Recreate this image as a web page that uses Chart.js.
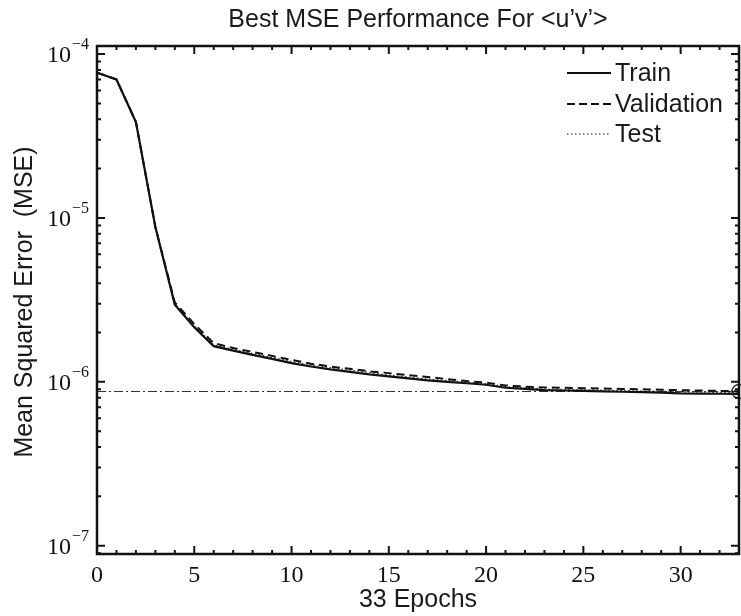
<!DOCTYPE html>
<html>
<head>
<meta charset="utf-8">
<script src="https://cdn.jsdelivr.net/npm/chart.js"></script>
<style>
  html, body { margin: 0; padding: 0; background: #fff; }
  #wrap { width: 741px; height: 616px; }
</style>
</head>
<body>
<div id="wrap"><canvas id="chart" width="741" height="616"></canvas></div>
<script>
var epochs = [0, 1, 2, 3, 4, 5, 6, 7, 8, 9, 10, 11, 12, 13, 14, 15, 16, 17, 18, 19, 20, 21, 22, 23, 24, 25, 26, 27, 28, 29, 30, 31, 32, 33];
var trainMse = [7.7e-5, 7.0e-5, 3.85e-5, 8.8e-6, 2.95e-6, 2.15e-6, 1.65e-6, 1.55e-6, 1.46e-6, 1.38e-6, 1.30e-6, 1.24e-6, 1.19e-6, 1.15e-6, 1.11e-6, 1.08e-6, 1.05e-6, 1.02e-6, 1.00e-6, 0.98e-6, 0.96e-6, 0.92e-6, 0.905e-6, 0.89e-6, 0.885e-6, 0.88e-6, 0.875e-6, 0.87e-6, 0.865e-6, 0.86e-6, 0.85e-6, 0.848e-6, 0.846e-6, 0.845e-6];
var validationMse = [7.7e-5, 7.0e-5, 3.85e-5, 8.8e-6, 3.05e-6, 2.25e-6, 1.72e-6, 1.61e-6, 1.52e-6, 1.44e-6, 1.36e-6, 1.29e-6, 1.24e-6, 1.20e-6, 1.16e-6, 1.13e-6, 1.10e-6, 1.07e-6, 1.04e-6, 1.01e-6, 0.99e-6, 0.95e-6, 0.935e-6, 0.925e-6, 0.92e-6, 0.915e-6, 0.91e-6, 0.905e-6, 0.90e-6, 0.895e-6, 0.89e-6, 0.885e-6, 0.88e-6, 0.875e-6];
var testMse = [7.7e-5, 7.0e-5, 3.85e-5, 8.9e-6, 3.0e-6, 2.2e-6, 1.68e-6, 1.58e-6, 1.49e-6, 1.41e-6, 1.33e-6, 1.27e-6, 1.22e-6, 1.18e-6, 1.14e-6, 1.10e-6, 1.07e-6, 1.04e-6, 1.02e-6, 0.995e-6, 0.975e-6, 0.935e-6, 0.92e-6, 0.905e-6, 0.90e-6, 0.895e-6, 0.89e-6, 0.885e-6, 0.88e-6, 0.875e-6, 0.87e-6, 0.865e-6, 0.862e-6, 0.86e-6];
var bestEpoch = 33;
var bestMse = 0.873e-6;
var xTicks = [0, 5, 10, 15, 20, 25, 30];
var yTickExps = [-4, -5, -6, -7];

var sans = '"Liberation Sans", Arial, sans-serif';
var serif = '"Liberation Serif", "Times New Roman", serif';

function pts(ys) {
  return epochs.map(function (e, i) { return { x: e, y: ys[i] }; });
}

var axesPlugin = {
  id: 'matlabAxes',
  afterDraw: function (chart) {
    var ctx = chart.ctx;
    var a = chart.chartArea;
    var xs = chart.scales.x, ys = chart.scales.y;
    ctx.save();
    ctx.strokeStyle = '#111';
    ctx.fillStyle = '#111';

    // x ticks, top and bottom, pointing in
    ctx.lineWidth = 2;
    for (var e = 0; e <= 33; e++) {
      var px = xs.getPixelForValue(e);
      var len = (e % 5 === 0) ? 8 : 4;
      ctx.beginPath();
      ctx.moveTo(px, a.bottom); ctx.lineTo(px, a.bottom - len);
      ctx.moveTo(px, a.top); ctx.lineTo(px, a.top + len);
      ctx.stroke();
    }
    // y ticks, left and right
    for (var d = -8; d <= -4; d++) {
      for (var k = 1; k <= 9; k++) {
        var v = k * Math.pow(10, d);
        if (v < ys.min || v > ys.max) continue;
        var py = ys.getPixelForValue(v);
        var l2 = (k === 1) ? 8 : 4;
        ctx.beginPath();
        ctx.moveTo(a.left, py); ctx.lineTo(a.left + l2, py);
        ctx.moveTo(a.right, py); ctx.lineTo(a.right - l2, py);
        ctx.stroke();
      }
    }
    // frame
    ctx.lineWidth = 2.5;
    ctx.strokeRect(a.left, a.top, a.right - a.left, a.bottom - a.top);

    // x tick labels
    ctx.font = '24px ' + serif;
    ctx.textAlign = 'center';
    ctx.textBaseline = 'middle';
    xTicks.forEach(function (t) {
      ctx.fillText(String(t), xs.getPixelForValue(t), a.bottom + 22);
    });
    // y tick labels with superscript exponents
    yTickExps.forEach(function (p) {
      var py = ys.getPixelForValue(Math.pow(10, p));
      ctx.font = '24px ' + serif;
      ctx.textAlign = 'right';
      ctx.textBaseline = 'middle';
      ctx.fillText('10', 71, py + 2);
      ctx.font = '16px ' + serif;
      ctx.textAlign = 'left';
      ctx.fillText('\u2212' + String(-p), 72, py - 9);
    });

    // title and axis titles
    ctx.font = '25px ' + sans;
    ctx.textAlign = 'center';
    ctx.textBaseline = 'alphabetic';
    ctx.fillStyle = '#1a1a1a';
    ctx.fillText("Best MSE Performance For <u\u2019v\u2019>", (a.left + a.right) / 2, 27);
    ctx.fillText('33 Epochs', (a.left + a.right) / 2, 607);
    ctx.save();
    ctx.translate(32, (a.top + a.bottom) / 2 + 2);
    ctx.rotate(-Math.PI / 2);
    ctx.fillText('Mean Squared Error  (MSE)', 0, 0);
    ctx.restore();

    // legend
    var items = [
      { label: 'Train', dash: [], w: 2, y: 73 },
      { label: 'Validation', dash: [8, 4], w: 2, y: 104 },
      { label: 'Test', dash: [1.5, 2.5], w: 1.2, y: 134 }
    ];
    ctx.textAlign = 'left';
    ctx.textBaseline = 'middle';
    items.forEach(function (it) {
      ctx.beginPath();
      ctx.setLineDash(it.dash);
      ctx.lineWidth = it.w;
      ctx.strokeStyle = '#111';
      ctx.moveTo(567, it.y); ctx.lineTo(611, it.y);
      ctx.stroke();
      ctx.setLineDash([]);
      ctx.fillText(it.label, 615, it.y + 1);
    });
    ctx.restore();
  }
};

var ctx = document.getElementById('chart').getContext('2d');
var myChart = new Chart(ctx, {
  type: 'line',
  data: {
    datasets: [
      {
        label: 'Train',
        data: pts(trainMse),
        borderColor: '#111',
        borderWidth: 2.2,
        pointRadius: 0,
        tension: 0,
        order: 1
      },
      {
        label: 'Validation',
        data: pts(validationMse),
        borderColor: '#111',
        borderWidth: 2,
        borderDash: [8, 5],
        pointRadius: 0,
        tension: 0,
        order: 2
      },
      {
        label: 'Test',
        data: pts(testMse),
        borderColor: '#333',
        borderWidth: 1.2,
        borderDash: [1.5, 2.5],
        pointRadius: 0,
        tension: 0,
        order: 3
      },
      {
        label: 'Best',
        data: [{ x: 0, y: bestMse }, { x: bestEpoch, y: bestMse }],
        borderColor: '#333',
        borderWidth: 1.2,
        borderDash: [9, 3, 2, 3],
        pointRadius: 0,
        order: 4
      },
      {
        label: 'Best point',
        data: [{ x: bestEpoch, y: bestMse }],
        showLine: false,
        pointStyle: 'circle',
        pointRadius: 7,
        pointBorderWidth: 1.5,
        pointBorderColor: '#333',
        pointBackgroundColor: 'rgba(0,0,0,0)',
        clip: false,
        order: 0
      }
    ]
  },
  options: {
    responsive: false,
    animation: false,
    layout: { autoPadding: false, padding: { left: 97, right: 2, top: 46, bottom: 62 } },
    plugins: {
      legend: { display: false },
      title: { display: false },
      tooltip: { enabled: false }
    },
    scales: {
      x: { type: 'linear', min: 0, max: 33, display: false },
      y: { type: 'logarithmic', min: 8.9e-8, max: 1.12e-4, display: false }
    }
  },
  plugins: [axesPlugin]
});
</script>
</body>
</html>
